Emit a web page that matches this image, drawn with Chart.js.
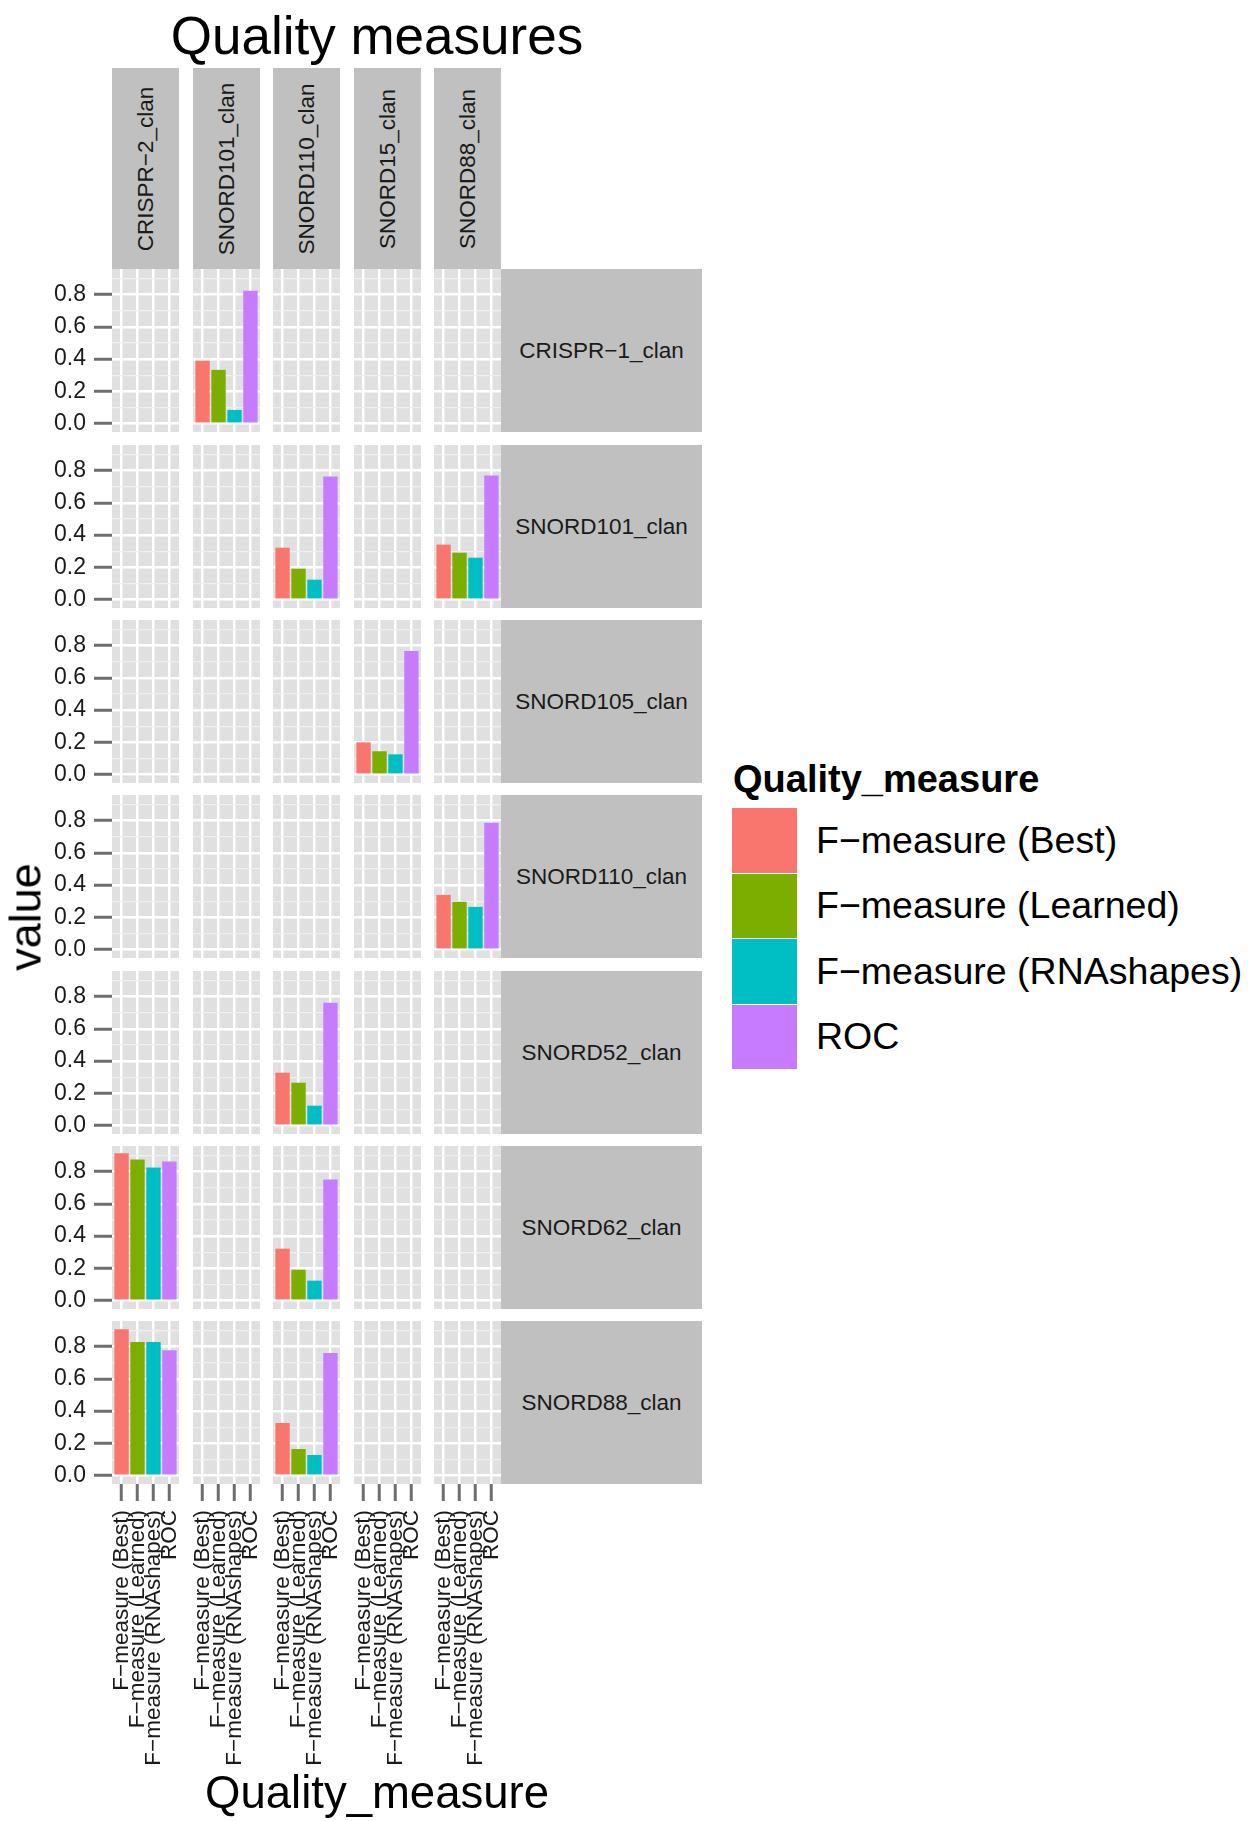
<!DOCTYPE html>
<html>
<head>
<meta charset="utf-8">
<title>Quality measures</title>
<script src="https://cdn.jsdelivr.net/npm/chart.js@4.4.1/dist/chart.umd.min.js"></script>
<style>
  html, body { margin: 0; padding: 0; background: #fff; }
  body {
    width: 1248px; height: 1821px; position: relative; overflow: hidden;
    font-family: 'Liberation Sans', Arial, sans-serif; color: #000;
  }
  canvas { position: absolute; }
  .txt { position: absolute; white-space: nowrap; line-height: 1; }
  .strip { position: absolute; background: #c0c0c0; }
  .strip span {
    position: absolute; left: 50%; top: 50%; white-space: nowrap;
    font-size: 22.5px; line-height: 1; color: #1a1a1a;
  }
  .strip.top span { transform: translate(-50%, -50%) rotate(-90deg); }
  .strip.side span { transform: translate(-50%, -50%); }
  .key { position: absolute; left: 732px; width: 65px; }
  .key-label { position: absolute; left: 816px; font-size: 37.5px; display: flex; align-items: center; white-space: nowrap; }
</style>
</head>
<body>
<div id="plot"></div>
<script>
// facet levels
const rowClans = ['CRISPR−1_clan', 'SNORD101_clan', 'SNORD105_clan', 'SNORD110_clan', 'SNORD52_clan', 'SNORD62_clan', 'SNORD88_clan'];
const colClans = ['CRISPR−2_clan', 'SNORD101_clan', 'SNORD110_clan', 'SNORD15_clan', 'SNORD88_clan'];
const measures = ['F−measure (Best)', 'F−measure (Learned)', 'F−measure (RNAshapes)', 'ROC'];

// one entry per panel that has bars
const panelRow = ['CRISPR−1_clan', 'SNORD101_clan', 'SNORD101_clan', 'SNORD105_clan', 'SNORD110_clan',
                  'SNORD52_clan', 'SNORD62_clan', 'SNORD62_clan', 'SNORD88_clan', 'SNORD88_clan'];
const panelCol = ['SNORD101_clan', 'SNORD110_clan', 'SNORD88_clan', 'SNORD15_clan', 'SNORD88_clan',
                  'SNORD110_clan', 'CRISPR−2_clan', 'SNORD110_clan', 'CRISPR−2_clan', 'SNORD110_clan'];
const fBest      = [0.390, 0.322, 0.341, 0.200, 0.339, 0.328, 0.912, 0.322, 0.907, 0.326];
const fLearned   = [0.333, 0.192, 0.291, 0.145, 0.296, 0.266, 0.874, 0.192, 0.827, 0.165];
const fRNAshapes = [0.085, 0.124, 0.260, 0.126, 0.265, 0.124, 0.825, 0.124, 0.827, 0.128];
const roc        = [0.823, 0.763, 0.769, 0.765, 0.786, 0.761, 0.862, 0.750, 0.777, 0.759];

// axis breaks
const yMajor = [0, 0.2, 0.4, 0.6, 0.8];
const yMinor = [0.1, 0.3, 0.5, 0.7, 0.9];

// colours
const measureColors = ['#F8766D', '#7CAE00', '#00BFC4', '#C77CFF'];
const panelBg = '#e0e0e0';
const tickGrey = '#6e6e6e';

// layout (pixels)
const colLeft = c => 112 + Math.round(80.5 * c);
const rowTop = r => Math.round(269.3 + 175.35 * r);
const PW = 67, PH = 163;
const Y_AXIS_W = 62, X_AXIS_H = 300;
const STRIP_TOP = 68, SIDE_LEFT = 501, SIDE_W = 201;

Chart.defaults.font.family = "'Liberation Sans', Arial, sans-serif";

const plot = document.getElementById('plot');

function addText(text, css) {
    const d = document.createElement('div');
    d.className = 'txt';
    d.textContent = text;
    Object.assign(d.style, css);
    plot.appendChild(d);
    return d;
}

function panelValues(rowName, colName) {
    for (let i = 0; i < panelRow.length; i++) {
        if (panelRow[i] === rowName && panelCol[i] === colName) {
            return [fBest[i], fLearned[i], fRNAshapes[i], roc[i]];
        }
    }
    return [];
}

const isMajor = v => yMajor.some(m => Math.abs(m - v) < 1e-9);

// labels may overflow the canvas edge: keep the panel area fixed
function noPadding(s) {
    s.paddingLeft = 0;
    s.paddingRight = 0;
    s.paddingTop = 0;
    s.paddingBottom = 0;
}

// grey panel background under the grid
const bgPlugin = {
    id: 'panelBg',
    beforeDraw(chart) {
        const { ctx, chartArea: a } = chart;
        ctx.save();
        ctx.fillStyle = panelBg;
        ctx.fillRect(a.left, a.top, a.right - a.left, a.bottom - a.top);
        ctx.restore();
    }
};

function makePanel(r, c) {
    const leftCol = c === 0;
    const bottomRow = r === rowClans.length - 1;
    const w = PW + (leftCol ? Y_AXIS_W : 0);
    const h = PH + (bottomRow ? X_AXIS_H : 0);

    const canvas = document.createElement('canvas');
    canvas.width = w;
    canvas.height = h;
    canvas.style.left = (colLeft(c) - (leftCol ? Y_AXIS_W : 0)) + 'px';
    canvas.style.top = rowTop(r) + 'px';
    canvas.style.width = w + 'px';
    canvas.style.height = h + 'px';
    plot.appendChild(canvas);

    const values = panelValues(rowClans[r], colClans[c]);

    new Chart(canvas, {
        type: 'bar',
        data: {
            datasets: [{
                data: values.map((v, k) => ({ x: k + 1, y: v })),
                backgroundColor: measureColors,
                borderWidth: 0,
                categoryPercentage: 1,
                barPercentage: 0.9
            }]
        },
        options: {
            responsive: false,
            animation: false,
            devicePixelRatio: 1,
            events: [],
            layout: { padding: 0, autoPadding: false },
            plugins: { legend: { display: false }, tooltip: { enabled: false } },
            scales: {
                x: {
                    type: 'linear',
                    min: 0.4,
                    max: 4.6,
                    offset: false,
                    afterBuildTicks: s => { s.ticks = measures.map((m, k) => ({ value: k + 1 })); },
                    afterFit: s => { s.height = bottomRow ? X_AXIS_H : 0; noPadding(s); },
                    border: { display: false },
                    grid: {
                        offset: false,
                        color: '#ffffff',
                        lineWidth: 2.5,
                        drawTicks: bottomRow,
                        tickLength: 17,
                        tickColor: tickGrey,
                        tickWidth: 3
                    },
                    ticks: {
                        display: bottomRow,
                        autoSkip: false,
                        minRotation: 90,
                        maxRotation: 90,
                        padding: 9,
                        color: '#1a1a1a',
                        font: { size: 22.5 },
                        callback: v => measures[Math.round(v) - 1]
                    }
                },
                y: {
                    type: 'linear',
                    min: -0.0515,
                    max: 0.9575,
                    afterBuildTicks: s => {
                        s.ticks = yMajor.concat(yMinor).sort((a, b) => a - b).map(v => ({ value: v }));
                    },
                    afterFit: s => { s.width = leftCol ? Y_AXIS_W : 0; noPadding(s); },
                    border: { display: false },
                    grid: {
                        color: ctx => isMajor(ctx.tick.value) ? '#ffffff' : '#f0f0f0',
                        lineWidth: ctx => isMajor(ctx.tick.value) ? 2.5 : 1.2,
                        drawTicks: leftCol,
                        tickLength: 18,
                        tickColor: ctx => isMajor(ctx.tick.value) ? tickGrey : 'rgba(0,0,0,0)',
                        tickWidth: 3
                    },
                    ticks: {
                        display: leftCol,
                        autoSkip: false,
                        padding: 8,
                        color: '#1a1a1a',
                        font: { size: 23 },
                        callback: v => isMajor(v) ? v.toFixed(1) : ''
                    }
                }
            }
        },
        plugins: [bgPlugin]
    });
}

// panels
rowClans.forEach((rowName, r) => {
    colClans.forEach((colName, c) => makePanel(r, c));
});

// column strips (top)
colClans.forEach((name, c) => {
    const s = document.createElement('div');
    s.className = 'strip top';
    Object.assign(s.style, {
        left: colLeft(c) + 'px', top: STRIP_TOP + 'px',
        width: PW + 'px', height: (rowTop(0) - STRIP_TOP) + 'px'
    });
    s.innerHTML = '<span></span>';
    s.firstChild.textContent = name;
    plot.appendChild(s);
});

// row strips (right)
rowClans.forEach((name, r) => {
    const s = document.createElement('div');
    s.className = 'strip side';
    Object.assign(s.style, {
        left: SIDE_LEFT + 'px', top: rowTop(r) + 'px',
        width: SIDE_W + 'px', height: PH + 'px'
    });
    s.innerHTML = '<span></span>';
    s.firstChild.textContent = name;
    plot.appendChild(s);
});

// titles
addText('Quality measures', { left: '0px', width: '754px', textAlign: 'center', top: '9px', fontSize: '53px' });
addText('Quality_measure', { left: '0px', width: '754px', textAlign: 'center', top: '1770px', fontSize: '45.5px' });
addText('value', { left: '25px', top: '917px', fontSize: '45px', transform: 'translate(-50%, -50%) rotate(-90deg)' });

// legend
addText('Quality_measure', { left: '733px', top: '760px', fontSize: '38px', fontWeight: 'bold' });
measures.forEach((m, k) => {
    const top = 808 + 65.5 * k;
    const key = document.createElement('div');
    key.className = 'key';
    Object.assign(key.style, { top: top + 'px', height: '64.5px', background: measureColors[k] });
    plot.appendChild(key);
    const lab = document.createElement('div');
    lab.className = 'key-label';
    Object.assign(lab.style, { top: top + 'px', height: '64.5px' });
    lab.textContent = m;
    plot.appendChild(lab);
});
</script>
</body>
</html>
